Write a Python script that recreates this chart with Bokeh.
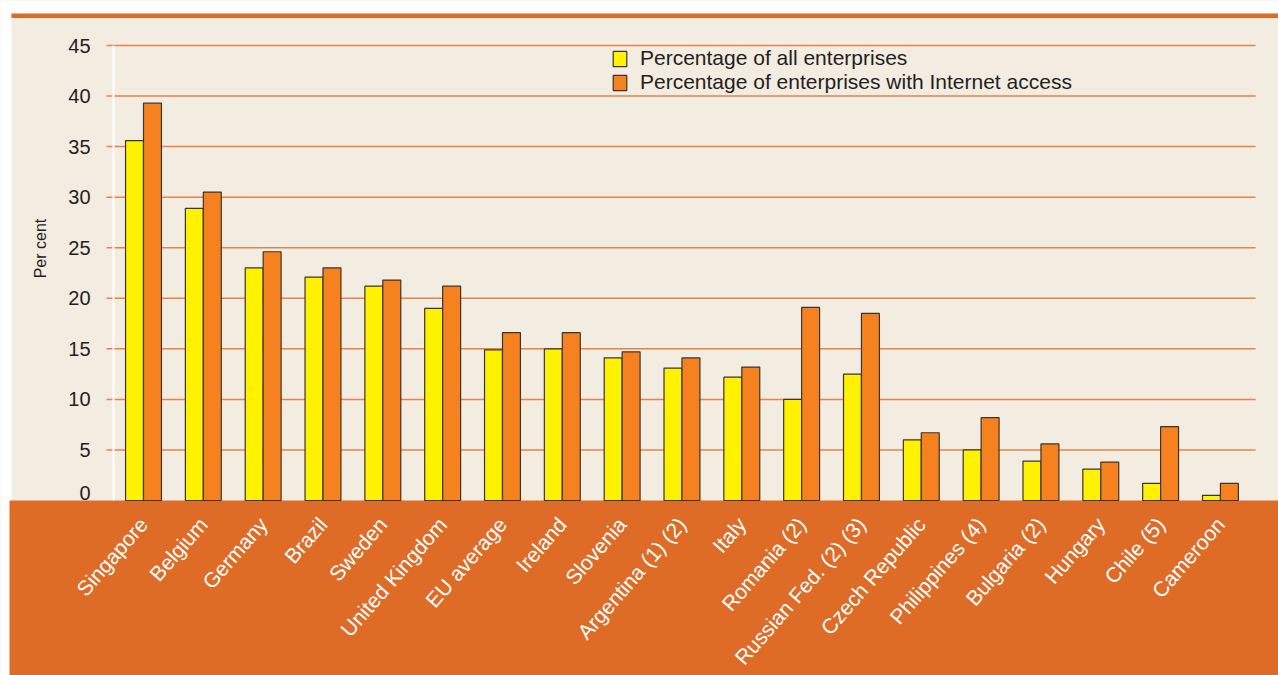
import math
from bokeh.plotting import figure
from bokeh.models import (ColumnDataSource, Range1d, BoxAnnotation, Legend,
                          LegendItem, FixedTicker, LinearAxis)
from bokeh.transform import dodge
from bokeh.embed import file_html
from bokeh.resources import INLINE

countries = ["Singapore", "Belgium", "Germany", "Brazil", "Sweden",
             "United Kingdom", "EU average", "Ireland", "Slovenia",
             "Argentina (1) (2)", "Italy", "Romania (2)", "Russian Fed. (2) (3)",
             "Czech Republic", "Philippines (4)", "Bulgaria (2)", "Hungary",
             "Chile (5)", "Cameroon"]
pct_all = [35.6, 28.9, 23.0, 22.1, 21.2, 19.0, 14.9, 15.0, 14.1, 13.1,
           12.2, 10.0, 12.5, 6.0, 5.0, 3.9, 3.1, 1.7, 0.5]
pct_internet = [39.3, 30.5, 24.6, 23.0, 21.8, 21.2, 16.6, 16.6, 14.7, 14.1,
                13.2, 19.1, 18.5, 6.7, 8.2, 5.6, 3.8, 7.3, 1.7]
y_ticks = [0, 5, 10, 15, 20, 25, 30, 35, 40, 45]
series_names = ["Percentage of all enterprises",
                "Percentage of enterprises with Internet access"]

BEIGE = "#f3ece1"
BAND = "#de6b26"
GRID = "#e8824a"
YELLOW = "#fff200"
ORANGE = "#f5821f"
TEXT = "#231f20"

W, H = 1278, 675
# pixel geometry of the reference: category 0 centre at x=143, step 59.83 px;
# value 0 at y=500, 10.111 px per unit
PX0, STEP = 143.0, 59.83
PY0, PPU = 500.0, 455.0 / 45.0


def xv(px):
    return (px - PX0) / STEP


def yv(py):
    return (PY0 - py) / PPU


idx = list(range(len(countries)))
src = ColumnDataSource(dict(idx=idx, all=pct_all, internet=pct_internet))

p = figure(x_range=Range1d(xv(0), xv(W)), y_range=Range1d(yv(H), yv(0)),
           width=W, height=H, output_backend="svg", toolbar_location=None,
           x_axis_location=None, y_axis_location=None, min_border=0)
p.background_fill_color = BEIGE
p.border_fill_color = BEIGE
p.outline_line_color = None
p.grid.visible = False

# decorative areas
p.add_layout(BoxAnnotation(bottom=yv(13), fill_color="white", fill_alpha=1,
                           line_color=None, level="underlay"))
p.add_layout(BoxAnnotation(right=xv(11), fill_color="white", fill_alpha=1,
                           line_color=None, level="underlay"))
p.add_layout(BoxAnnotation(left=xv(11), bottom=yv(17.5), top=yv(13),
                           fill_color=BAND, fill_alpha=1, line_color=None,
                           level="underlay"))
p.add_layout(BoxAnnotation(left=xv(9), top=0, fill_color=BAND, fill_alpha=1,
                           line_color=None, level="underlay"))

# horizontal grid lines from the tick values
gy = y_ticks[1:]
p.segment(x0=[xv(106)] * len(gy), x1=[xv(1255)] * len(gy), y0=gy, y1=gy,
          line_color=GRID, line_width=1.5)

r1 = p.vbar(x=dodge("idx", -0.15), top="all", width=0.3, source=src,
            fill_color=YELLOW, line_color="#3a3530", line_width=1.2)
r2 = p.vbar(x=dodge("idx", 0.15), top="internet", width=0.3, source=src,
            fill_color=ORANGE, line_color="#3a3530", line_width=1.2)


def style_y(ax):
    ax.major_tick_line_color = None
    ax.minor_tick_line_color = None
    ax.major_label_text_font = "Liberation Sans"
    ax.major_label_text_font_size = "20px"
    ax.major_label_text_color = TEXT
    ax.major_label_standoff = 17


# y axis (5..45)
ya = LinearAxis(fixed_location=-0.5, bounds=(0, 45),
                ticker=FixedTicker(ticks=y_ticks[1:]))
style_y(ya)
ya.axis_line_color = "white"
ya.axis_line_width = 2
p.add_layout(ya, "left")

# the zero label sits just above the band edge
ZERO_LIFT = 0.75
zero_pos = y_ticks[0] + ZERO_LIFT
y0a = LinearAxis(fixed_location=-0.5, ticker=FixedTicker(ticks=[zero_pos]),
                 major_label_overrides={zero_pos: str(y_ticks[0])})
style_y(y0a)
y0a.axis_line_color = None
p.add_layout(y0a, "left")

# axis title
yt = LinearAxis(fixed_location=-0.5, bounds=(4.8, 45),
                ticker=FixedTicker(ticks=[]))
yt.axis_line_color = None
yt.major_tick_line_color = None
yt.minor_tick_line_color = None
yt.axis_label = "Per cent"
yt.axis_label_text_font = "Liberation Sans"
yt.axis_label_text_font_style = "normal"
yt.axis_label_text_font_size = "16px"
yt.axis_label_text_color = TEXT
yt.axis_label_standoff = 65
p.add_layout(yt, "left")

# x axis with country names
xa = LinearAxis(fixed_location=0, ticker=FixedTicker(ticks=idx),
                major_label_overrides={i: c for i, c in zip(idx, countries)})
xa.axis_line_color = None
xa.major_tick_line_color = None
xa.minor_tick_line_color = None
xa.major_label_orientation = math.radians(49)
xa.major_label_text_color = "white"
xa.major_label_text_font = "Liberation Sans"
xa.major_label_text_font_size = "21px"
xa.major_label_standoff = 14
p.add_layout(xa, "below")

legend = Legend(items=[LegendItem(label=series_names[0], renderers=[r1]),
                       LegendItem(label=series_names[1], renderers=[r2])],
                location=(611, 581), orientation="vertical",
                background_fill_alpha=0, border_line_color=None,
                padding=2, spacing=-2, margin=0,
                glyph_width=17, glyph_height=19, label_height=22,
                label_standoff=12, label_text_font="Liberation Sans",
                label_text_font_size="21px", label_text_color=TEXT)
p.add_layout(legend, "center")

open("out.html", "w").write(file_html(p, INLINE))
